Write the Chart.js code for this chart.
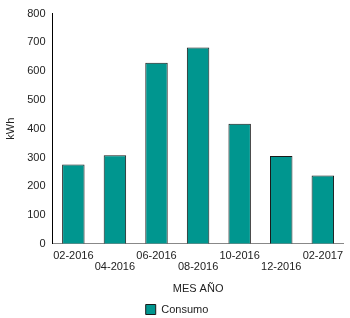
<!DOCTYPE html>
<html>
<head>
<meta charset="utf-8">
<script src="https://cdn.jsdelivr.net/npm/chart.js@4"></script>
<style>
  html, body { margin: 0; padding: 0; background: #fff; }
  #wrap { width: 350px; height: 318px; }
</style>
</head>
<body>
<div id="wrap"><canvas id="canvas"></canvas></div>
<script>
// Datos del grafico
const meses = ["02-2016", "04-2016", "06-2016", "08-2016", "10-2016", "12-2016", "02-2017"];
const consumo = [276, 308, 629, 682, 417, 305, 237];
const serieNombre = "Consumo";
const tituloX = "MES AÑO";
const tituloY = "kWh";

const fuente = { family: "'Liberation Sans', Arial, sans-serif", size: 11 };

Chart.defaults.font = fuente;
Chart.defaults.color = "#222";

const grafico = document.getElementById("canvas");

new Chart(grafico, {
  type: "bar",
  data: {
    labels: meses,
    datasets: [
      {
        label: serieNombre,
        data: consumo,
        backgroundColor: "#00968f",
        borderColor: "#1a1a1a",
        borderWidth: 1,
        barPercentage: 0.54,
        categoryPercentage: 1,
      },
    ],
  },
  options: {
    responsive: true,
    maintainAspectRatio: false,
    animation: false,
    layout: { padding: { top: 9, right: 0, left: 4, bottom: -7 } },
    plugins: {
      tooltip: { enabled: false },
      legend: {
        position: "bottom",
        labels: { boxWidth: 10, boxHeight: 10, padding: 2, color: "#222" },
      },
    },
    scales: {
      x: {
        grid: { display: false, drawTicks: false },
        border: { display: true, color: "#888", width: 1 },
        ticks: {
          maxRotation: 0,
          autoSkip: false,
          padding: 7,
          font: { lineHeight: 1.0 },
          // alterna las etiquetas en dos filas
          callback: function (value, index) {
            const label = this.getLabelForValue(value);
            return index % 2 ? ["", label] : label;
          },
        },
        title: { display: true, text: tituloX, padding: { top: 3, bottom: 6 } },
      },
      y: {
        min: 0,
        max: 800,
        grid: { display: false, drawTicks: false },
        border: { display: true, color: "#000", width: 1 },
        ticks: { stepSize: 100, padding: 7 },
        title: { display: true, text: tituloY, padding: { top: 0, bottom: 3 } },
      },
    },
  },
});
</script>
</body>
</html>
